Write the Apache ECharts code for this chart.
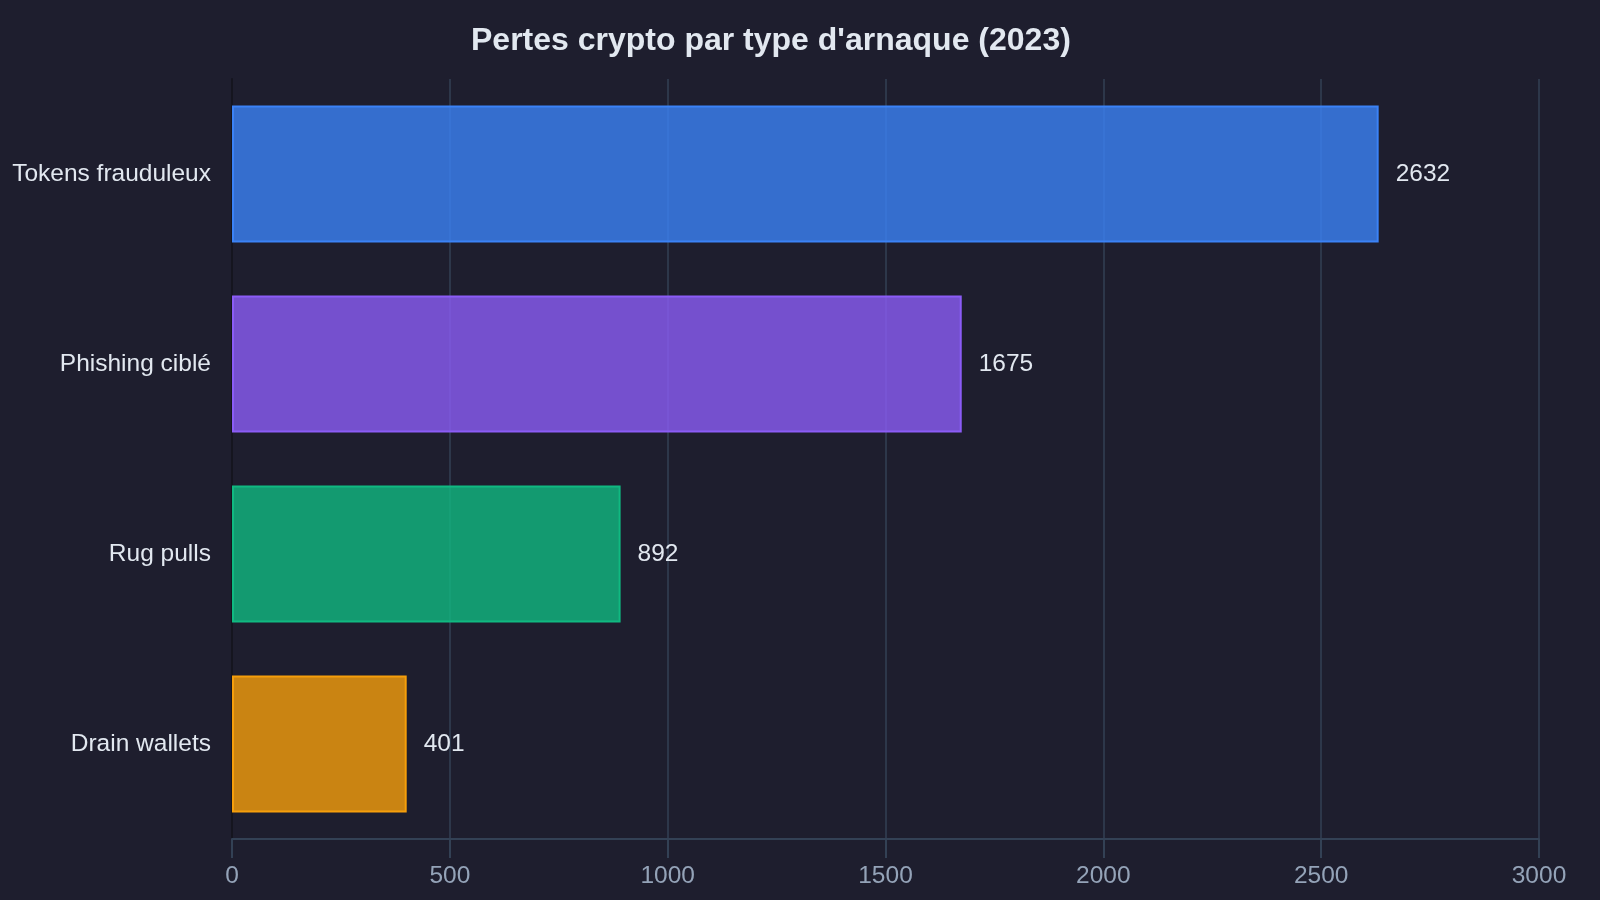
<!DOCTYPE html>
<html>
<head>
<meta charset="utf-8">
<script src="https://cdn.jsdelivr.net/npm/echarts@6/dist/echarts.min.js"></script>
<style>
html,body{margin:0;padding:0;background:#1e1e2e;}
#c{width:1600px;height:900px;}
</style>
</head>
<body>
<div id="c"></div>
<script>
const categories = ["Tokens frauduleux", "Phishing ciblé", "Rug pulls", "Drain wallets"];
const values = [2632, 1675, 892, 401];
const colors = ["#3b82f6", "#8b5cf6", "#10b981", "#f59e0b"];
const axisMax = 3000;
const axisInterval = 500;

const chart = echarts.init(document.getElementById('c'));
chart.setOption({
  backgroundColor: '#1e1e2e',
  animation: false,
  title: {
    text: "Pertes crypto par type d'arnaque (2023)",
    left: 471,
    top: 25,
    padding: 0,
    textStyle: { color: '#e2e8f0', fontSize: 32, fontWeight: 'bold', fontFamily: 'Liberation Sans' }
  },
  grid: { left: 232, right: 61, top: 79, bottom: 61 },
  xAxis: {
    type: 'value',
    min: 0,
    max: axisMax,
    interval: axisInterval,
    axisLine: { show: true, lineStyle: { color: '#334155', width: 2 } },
    axisTick: { show: true, length: 19, lineStyle: { color: '#334155', width: 2 } },
    splitLine: { show: true, lineStyle: { color: '#334155', width: 1.5 } },
    axisLabel: { color: '#94a3b8', fontSize: 24.5, margin: 25, fontFamily: 'Liberation Sans',
      formatter: v => String(v) }
  },
  yAxis: {
    type: 'category',
    data: categories,
    inverse: true,
    axisLine: { show: true, lineStyle: { color: '#15151f', width: 2 } },
    axisTick: { show: false },
    axisLabel: { color: '#e2e8f0', fontSize: 24.5, margin: 21, fontFamily: 'Liberation Sans',
      padding: [2, 0, 0, 0] }
  },
  series: [{
    type: 'bar',
    barWidth: '72%',
    data: values.map((v, i) => ({
      value: v,
      itemStyle: {
        color: echarts.color.modifyAlpha(colors[i], 0.8),
        borderColor: colors[i],
        borderWidth: 2
      }
    })),
    label: {
      show: true,
      position: 'right',
      distance: 17,
      color: '#e2e8f0',
      fontSize: 24.5,
      fontFamily: 'Liberation Sans',
      padding: [2, 0, 0, 0]
    }
  }]
});
</script>
</body>
</html>
